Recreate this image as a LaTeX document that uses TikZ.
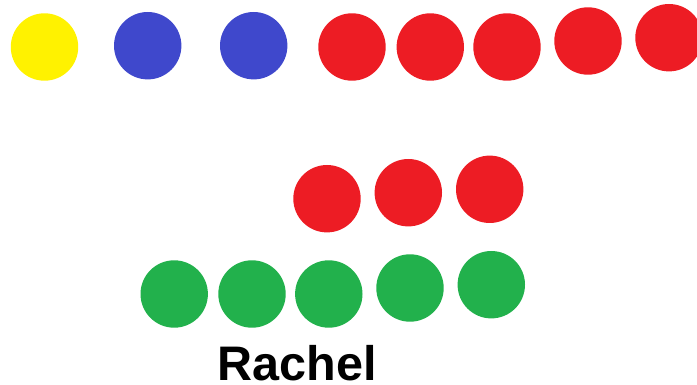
\documentclass[tikz,border=0pt]{standalone}
\usepackage{fontspec}
\setmainfont{Liberation Sans}
\definecolor{pyellow}{HTML}{FFF200}
\definecolor{pblue}{HTML}{3F48CC}
\definecolor{pred}{HTML}{ED1C24}
\definecolor{pgreen}{HTML}{22B14C}
\tikzset{
  dot/.style={circle, inner sep=0pt, minimum size=67.4pt, fill=#1, draw=none},
  lbl/.style={font=\fontsize{48.5}{52}\selectfont\bfseries, inner sep=0pt, anchor=base}
}
\begin{document}
\begin{tikzpicture}[x=1pt,y=-1pt]
\useasboundingbox (0,0) rectangle (697,385);
\node[dot=pyellow] (y1) at (44.5,47) {};
\node[dot=pblue] (b1) at (147.7,45.7) {};
\node[dot=pblue] (b2) at (253.7,45.7) {};
\node[dot=pred] (r1) at (352,47) {};
\node[dot=pred] (r2) at (430.3,47) {};
\node[dot=pred] (r3) at (507,47) {};
\node[dot=pred] (r4) at (588,41) {};
\node[dot=pred] (r5) at (669,37.7) {};
\node[dot=pred] (m1) at (327,198.7) {};
\node[dot=pred] (m2) at (408.3,192.7) {};
\node[dot=pred] (m3) at (489.7,189.3) {};
\node[dot=pgreen] (g1) at (174.2,294) {};
\node[dot=pgreen] (g2) at (252,294) {};
\node[dot=pgreen] (g3) at (328.8,294) {};
\node[dot=pgreen] (g4) at (410,288) {};
\node[dot=pgreen] (g5) at (491.3,284.7) {};
\node[lbl] (name) at (297.5,380) {Rachel};
\end{tikzpicture}
\end{document}
